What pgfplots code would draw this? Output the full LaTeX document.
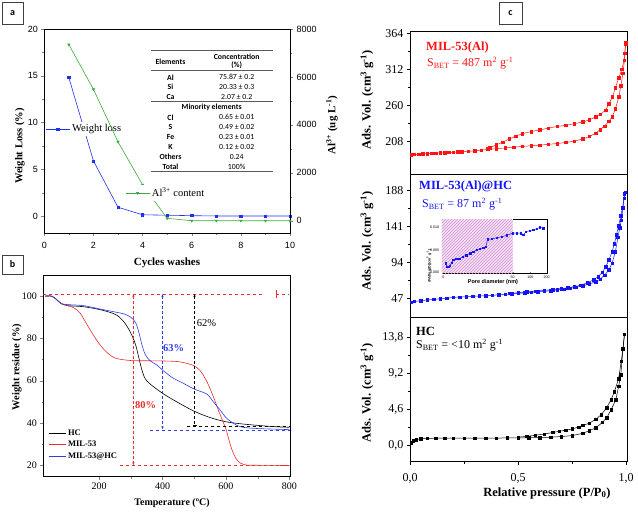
\documentclass[border=0pt]{standalone}
\usepackage{pgfplots}
\pgfplotsset{compat=1.18}
\usepackage{fontspec}
\setmainfont{Liberation Serif}
\newfontfamily\arial{Liberation Sans}
\newfontfamily\calibri{Carlito}
\usetikzlibrary{patterns,arrows.meta}
\definecolor{ablue}{RGB}{30,50,235}
\definecolor{agreen}{RGB}{60,170,60}
\definecolor{bred}{RGB}{235,45,45}
\definecolor{bblue}{RGB}{45,60,235}
\definecolor{cred}{RGB}{255,20,20}
\definecolor{cblue}{RGB}{20,20,245}
\definecolor{pinkfill}{RGB}{246,222,246}
\definecolor{hatch}{RGB}{205,150,205}
\definecolor{tblline}{RGB}{90,90,90}
\newcommand{\fs}[1]{\fontsize{#1}{#1}\selectfont}
\pgfplotsset{
  every axis/.append style={scale only axis, anchor=south west,
    /pgf/number format/assume math mode=true, tick align=outside,
    /pgf/number format/set thousands separator={}},
  cpanel/.style={width=217.2pt, xmin=0, xmax=1.0046, ytick pos=left, xtick pos=bottom,
    minor y tick num=1, minor x tick num=1, tick label style={font=\fs{12}},
    axis line style={line width=0.9pt}, major tick length=3pt, minor tick length=2pt,
    every tick/.style={black, line width=0.7pt}},
}
\begin{document}
\begin{tikzpicture}[x=1pt,y=1pt]
\path[use as bounding box] (0pt,0pt) rectangle (638pt,512pt);

% ---------------- panel a ----------------
\begin{axis}[at={(44.3pt,279pt)}, width=245.7pt, height=204pt,
  xmin=0, xmax=10, ymin=-1.8, ymax=20,
  xtick={0,2,...,10}, ytick={0,5,10,15,20},
  minor x tick num=1, minor y tick num=1,
  xtick pos=bottom, ytick pos=left,
  major tick length=3pt, minor tick length=1.8pt,
  tick label style={font=\arial\fs{9}},
  xticklabel style={yshift=-3pt},
  axis line style={line width=0.6pt},
  legend style={at={(0.0,0.51)}, anchor=west, draw=none, fill=white, font=\fs{10.5}, inner sep=1pt},
  legend image code/.code={\draw[mark repeat=2,mark phase=2,#1] plot coordinates {(0pt,0pt) (12pt,0pt) (24pt,0pt)};},
]
\addplot[ablue, line width=0.6pt, mark=square*, mark size=1.1pt] coordinates {
(1,14.8)(2,5.9)(3,0.95)(4,0.15)(5,0.1)(6,0.05)(7,0.02)(8,0.02)(9,0.02)(10,0.02)};
\addlegendentry{Weight loss}
\end{axis}
\begin{axis}[at={(44.3pt,279pt)}, width=245.7pt, height=204pt,
  xmin=0, xmax=10, ymin=-513, ymax=8000,
  axis x line=none, axis y line*=right,
  ytick={0,2000,4000,6000,8000}, minor y tick num=1,
  scaled y ticks=false,
  major tick length=3pt, minor tick length=1.8pt,
  tick label style={font=\arial\fs{9}},
  axis line style={line width=0.6pt},
  legend style={at={(0.325,0.196)}, anchor=west, draw=none, fill=white, font=\fs{10.5}, inner sep=1pt},
  legend image code/.code={\draw[mark repeat=2,mark phase=2,#1] plot coordinates {(0pt,0pt) (12pt,0pt) (24pt,0pt)};},
]
\addplot[agreen, line width=0.6pt, mark=triangle*, mark size=1.3pt, mark options={rotate=180}] coordinates {
(1,7350)(2,5480)(3,3290)(4,1500)(5,100)(6,0)(7,0)(8,0)(9,0)(10,0)};
\addlegendentry{Al\textsuperscript{3+} content}
\end{axis}

% table in panel a
\begin{scope}[tblline, line width=0.5pt]
\draw (150.7,461.3) -- (273.3,461.3);
\draw (150.7,441.3) -- (273.3,441.3);
\draw (150.7,410.7) -- (273.3,410.7);
\draw (150.7,340.3) -- (273.3,340.3);
\end{scope}
\begin{scope}[every node/.style={font=\calibri\fs{7.8}, inner sep=0pt}]
\node[font=\calibri\bfseries\fs{7.8}] at (170.5,450.3) {Elements};
\node[font=\calibri\bfseries\fs{7.8}] at (236.7,455.3) {Concentration};
\node[font=\calibri\bfseries\fs{7.8}] at (236.7,447) {(\%)};
\node[font=\calibri\bfseries\fs{7.8}] at (170.5,434.7) {Al};
\node[font=\calibri\bfseries\fs{7.8}] at (170.5,425.3) {Si};
\node[font=\calibri\bfseries\fs{7.8}] at (170.5,415.3) {Ca};
\node at (236.7,434.7) {75.87 ± 0.2};
\node at (236.7,425.3) {20.33 ± 0.3};
\node at (236.7,415.3) {2.07 ± 0.2};
\node[font=\calibri\bfseries\fs{7.8}] at (211.7,404.7) {Minority elements};
\node[font=\calibri\bfseries\fs{7.8}] at (170.5,394.7) {Cl};
\node[font=\calibri\bfseries\fs{7.8}] at (170.5,384.7) {S};
\node[font=\calibri\bfseries\fs{7.8}] at (170.5,375) {Fe};
\node[font=\calibri\bfseries\fs{7.8}] at (170.5,365) {K};
\node[font=\calibri\bfseries\fs{7.8}] at (170.5,355) {Others};
\node[font=\calibri\bfseries\fs{7.8}] at (170.5,345.3) {Total};
\node at (236.7,394.7) {0.65 ± 0.01};
\node at (236.7,384.7) {0.49 ± 0.02};
\node at (236.7,375) {0.23 ± 0.01};
\node at (236.7,365) {0.12 ± 0.02};
\node at (236.7,355) {0.24};
\node at (236.7,345.3) {100\%};
\end{scope}

\node[rotate=90, font=\bfseries\fs{10.5}] at (20,366) {Weight Loss (\%)};
\node[font=\bfseries\fs{11}] at (167,249) {Cycles washes};
\node[rotate=90, font=\bfseries\fs{11}] at (332,387) {Al\textsuperscript{3+} (ug L\textsuperscript{-1})};

% ---------------- panel b ----------------
\begin{axis}[at={(43.3pt,35.3pt)}, width=246.7pt, height=201.7pt,
  xmin=24, xmax=802, ymin=14.5, ymax=110,
  xtick={200,400,600,800}, ytick={20,40,...,100},
  minor x tick num=1, minor y tick num=1,
  xtick pos=bottom, ytick pos=left,
  major tick length=3pt, minor tick length=1.8pt,
  tick label style={font=\fs{10}},
  axis line style={line width=0.6pt},
  legend style={at={(0.02,0.245)}, anchor=north west, draw=none, fill=none, font=\bfseries\fs{8.5}, inner sep=0pt, row sep=0.6pt},
  legend cell align=left,
  legend image code/.code={\draw[#1] (0pt,0pt) -- (17pt,0pt);},
]
\addplot[black, line width=0.6pt, smooth] coordinates {
(30,100)(50,100)(65,98.5)(80,96.5)(100,95.5)(150,95)(200,93.7)(230,92.5)(256,91)(280,87.5)(300,82.5)(315,77)(325,71)(335,65)(345,61)(360,58.5)(400,54)(450,49.5)(500,45.5)(550,42.5)(600,40.5)(650,39.5)(700,38.8)(750,38.2)(800,37.9)};
\addlegendentry{HC}
\addplot[bred, line width=0.6pt, smooth] coordinates {
(30,100)(50,100)(65,98.5)(80,96.5)(100,95.5)(120,94.5)(140,92)(160,87)(180,82)(200,77.5)(220,74)(240,71.5)(260,70.3)(300,69.5)(350,69.4)(400,69.3)(450,69)(480,68)(500,67)(520,64.5)(540,59.5)(560,52.5)(580,44.5)(600,37)(615,29)(630,23.5)(645,21)(665,20)(700,19.9)(800,19.8)};
\addlegendentry{MIL-53}
\addplot[bblue, line width=0.6pt, smooth] coordinates {
(30,100)(50,100)(65,98.5)(80,96.5)(100,96)(150,95.5)(200,94)(250,92.5)(280,91.5)(300,90)(315,87.5)(325,83)(335,77)(345,72.5)(360,69.5)(382,67.4)(400,65)(430,61.5)(466,58.7)(500,56)(540,53.6)(560,50)(582,46)(600,42.5)(624,39.7)(650,38)(700,37.3)(800,36.8)};
\addlegendentry{MIL-53@HC}
% annotations
\addplot[bred, dashed, line width=0.6pt, forget plot] coordinates {(24,101)(719,101)};
\addplot[bred, dashed, line width=0.6pt, forget plot] coordinates {(759,101)(800,101)};
\addplot[bred, line width=0.6pt, forget plot] coordinates {(759,99)(759,103)};
\addplot[bred, dashed, line width=0.6pt, forget plot] coordinates {(266,20)(800,20)};
\addplot[bred, densely dashed, line width=0.6pt, {Stealth[length=3pt]}-{Stealth[length=3pt]}, forget plot] coordinates {(308,101)(308,20)};
\addplot[bblue, dashed, line width=0.8pt, forget plot] coordinates {(361,36.6)(802,36.6)};
\addplot[bblue, densely dashed, line width=0.6pt, {Stealth[length=3pt]}-{Stealth[length=3pt]}, forget plot] coordinates {(400,101)(400,37)};
\addplot[black, dashed, line width=0.6pt, forget plot] coordinates {(477,38.3)(802,38.3)};
\addplot[black, densely dashed, line width=0.6pt, {Stealth[length=3pt]}-{Bar[width=4pt]}, forget plot] coordinates {(501,101)(501,38.6)};
\node[bred, font=\bfseries\fs{10.5}] at (axis cs:347,48.4) {80\%};
\node[bblue, font=\bfseries\fs{10.5}] at (axis cs:435,75.2) {63\%};
\node[black, font=\fs{10.5}] at (axis cs:539,87.4) {62\%};
\end{axis}
\node[rotate=90, font=\bfseries\fs{10.4}] at (17,145) {Weight residue (\%)};
\node[font=\bfseries\fs{10}] at (172,9) {Temperature (ºC)};

% ---------------- panel c ----------------
\begin{axis}[cpanel, at={(410pt,338pt)}, height=142.3pt,
  ymin=160.8, ymax=366.3, ytick={208,260,312,364}, xtick=\empty]
\addplot[cred, line width=0.5pt, mark=square*, mark size=1.25pt] coordinates {
(0.005,188.5)(0.02,189)(0.04,189.5)(0.06,190)(0.08,190.3)(0.10,190.7)(0.12,191)(0.14,191.3)(0.16,191.6)(0.18,192)(0.20,192.3)(0.22,192.7)(0.24,193)(0.27,193.5)(0.30,194.3)(0.33,195.2)(0.36,196.4)(0.40,197.3)(0.44,198.5)(0.48,199.6)(0.52,200.6)(0.56,201.6)(0.60,202.5)(0.64,203.6)(0.68,204.8)(0.72,206.3)(0.76,208.3)(0.80,211.5)(0.83,215)(0.86,220)(0.88,225)(0.90,230)(0.92,237)(0.936,243.6)(0.95,255)(0.966,272)(0.975,288)(0.985,306)(0.992,325)(0.997,350)};
\addplot[cred, line width=0.5pt, mark=square*, mark size=1.25pt] coordinates {
(0.997,348)(0.993,335)(0.99,325)(0.98,312)(0.966,300)(0.95,285)(0.936,272)(0.92,262)(0.905,253)(0.88,247)(0.86,243.6)(0.83,239)(0.80,236)(0.76,233.5)(0.72,231)(0.68,229.5)(0.64,227)(0.60,224.5)(0.56,222)(0.52,219)(0.49,215.6)(0.46,211.5)(0.43,207)(0.40,203)(0.37,199)(0.36,197)};
\end{axis}
\begin{axis}[cpanel, at={(410pt,194.3pt)}, height=143.7pt,
  ymin=21.2, ymax=209.9, ytick={47,94,141,188}, xtick=\empty]
\addplot[cblue, line width=0.5pt, mark=square*, mark size=1.25pt] coordinates {
(0.005,41.4)(0.02,42.5)(0.05,43.5)(0.08,44.5)(0.11,45.2)(0.14,46)(0.17,46.8)(0.2,47.9)(0.23,48.3)(0.26,48.8)(0.29,49.3)(0.32,49.7)(0.35,50)(0.38,50.6)(0.41,51.3)(0.44,51.9)(0.47,52.5)(0.5,53.1)(0.53,53.8)(0.56,54.5)(0.59,55.2)(0.62,55.9)(0.65,56.6)(0.68,57.6)(0.71,58.8)(0.74,60)(0.77,61.2)(0.80,63)(0.83,65.5)(0.86,68.5)(0.88,72)(0.90,77)(0.92,84)(0.935,93)(0.95,108)(0.962,127)(0.97,139)(0.977,149)(0.985,165)(0.992,184)};
\addplot[cblue, line width=0.5pt, mark=square*, mark size=1.25pt] coordinates {
(0.995,186)(0.99,178)(0.983,166)(0.975,155)(0.965,142)(0.955,130)(0.945,118)(0.935,108)(0.92,97)(0.905,88)(0.89,81)(0.87,75)(0.85,71)(0.82,67)(0.79,64)(0.76,62)(0.73,60.5)(0.70,59.5)(0.66,58)(0.62,57)(0.58,56)(0.54,55)(0.50,54)(0.46,53)};
\end{axis}
\begin{axis}[cpanel, at={(410pt,50.3pt)}, height=144pt,
  ymin=-2.14, ymax=16.3, ytick={0,4.6,9.2,13.8}, yticklabels={{0,0},{4,6},{9,2},{13,8}},
  xtick={0,0.5,1}, xticklabels={{0,0},{0,5},{1,0}},
  xticklabel style={yshift=-5pt}]
\addplot[black, line width=0.5pt, mark=square*, mark size=1.25pt] coordinates {
(0.005,0.3)(0.015,0.55)(0.03,0.7)(0.05,0.8)(0.08,0.85)(0.12,0.87)(0.16,0.88)(0.2,0.88)(0.25,0.88)(0.3,0.88)(0.35,0.88)(0.4,0.89)(0.45,0.9)(0.5,0.9)(0.55,0.92)(0.6,0.95)(0.65,1.0)(0.7,1.08)(0.75,1.2)(0.8,1.5)(0.83,1.85)(0.86,2.2)(0.89,2.9)(0.91,3.5)(0.93,4.5)(0.952,5.8)(0.965,7.5)(0.975,9.0)(0.985,12.3)(0.992,14.2)};
\addplot[black, line width=0.5pt, mark=square*, mark size=1.25pt] coordinates {
(0.992,14.2)(0.985,12.3)(0.977,10.7)(0.965,8.5)(0.945,6.8)(0.93,5.8)(0.91,4.8)(0.885,3.9)(0.86,3.3)(0.83,2.8)(0.80,2.5)(0.78,2.3)(0.75,2.05)(0.72,1.9)(0.69,1.75)(0.66,1.6)(0.62,1.4)(0.58,1.25)(0.54,1.1)(0.50,1.0)};
\end{axis}

% inset
\begin{axis}[at={(441.7pt,238.7pt)}, width=105pt, height=54pt,
  xmin=-1.15, xmax=74.5, ymin=-0.00022, ymax=0.01178,
  xtick={0,50,62.8,74.5}, xticklabels={0,50,100,200},
  ytick={0,0.005,0.01}, yticklabels={0.000,0.005,0.010},
  scaled y ticks=false, scaled x ticks=false,
  xtick pos=bottom, ytick pos=left, tick align=inside,
  major tick length=1.5pt,
  tick label style={font=\arial\fs{3.6}},
  xticklabel style={yshift=1pt}, yticklabel style={xshift=1pt},
  axis line style={line width=0.4pt},
  axis background/.style={fill=white}]
\addplot[draw=none, fill=pinkfill, postaction={pattern=north east lines, pattern color=hatch}] coordinates {(-1.15,-0.00022)(50,-0.00022)(50,0.01178)(-1.15,0.01178)} --cycle;
\addplot[cblue, line width=0.5pt, mark=square*, mark size=0.7pt] coordinates {
(1.7,0.0020)(2.5,0.00124)(3.6,0.00118)(4.8,0.00147)(6.0,0.00213)(7.2,0.00273)(9.2,0.00296)(11.6,0.00303)(14.0,0.00347)(16.4,0.00378)(19.3,0.00422)(21.6,0.00452)(24.0,0.00496)(26.4,0.00525)(28.8,0.0054)(30.7,0.00562)(31.9,0.00733)(34.8,0.0074)(38.5,0.0077)(42.1,0.0079)(45.7,0.0082)(50.0,0.0087)(52.9,0.0087)(55.8,0.0087)(57.7,0.0084)(59.6,0.0090)(62.5,0.0093)(64.9,0.0094)(67.3,0.0097)(69.7,0.0100)(72.1,0.0098)};
\end{axis}
\node[rotate=90, font=\arial\bfseries\fs{3.6}] at (429,246) {dV/dlog(D)(cm\textsuperscript{3} g\textsuperscript{-1})};
\node[font=\arial\bfseries\fs{5.5}] at (493,230) {Pore diameter (nm)};

% panel c texts
\node[anchor=west, cred, font=\bfseries\fs{12.5}, inner sep=0pt] at (426,464.3) {MIL-53(Al)};
\node[anchor=west, cred, font=\fs{12}, inner sep=0pt] at (427,449) {S\textsubscript{BET} = 487 m\textsuperscript{2} g\textsuperscript{-1}};
\node[anchor=west, cblue, font=\bfseries\fs{12.5}, inner sep=0pt] at (419,325.3) {MIL-53(Al)@HC};
\node[anchor=west, cblue, font=\fs{12}, inner sep=0pt] at (422,307.7) {S\textsubscript{BET} = 87 m\textsuperscript{2} g\textsuperscript{-1}};
\node[anchor=west, black, font=\bfseries\fs{12.5}, inner sep=0pt] at (416,181) {HC};
\node[anchor=west, black, font=\fs{12}, inner sep=0pt] at (416,167) {S\textsubscript{BET} = <10 m\textsuperscript{2} g\textsuperscript{-1}};
\node[rotate=90, font=\bfseries\fs{12.5}] at (367,412) {Ads. Vol. (cm\textsuperscript{3} g\textsuperscript{-1})};
\node[rotate=90, font=\bfseries\fs{12.5}] at (367,271) {Ads. Vol. (cm\textsuperscript{3} g\textsuperscript{-1})};
\node[rotate=90, font=\bfseries\fs{12.5}] at (367,119) {Ads. Vol. (cm\textsuperscript{3} g\textsuperscript{-1})};
\node[font=\bfseries\fs{12.5}] at (547,19) {Relative pressure (P/P\textsubscript{0})};

% panel tags
\draw[line width=0.8pt, black!75] (2,488) rectangle (23,510);
\node[font=\calibri\bfseries\fs{10}] at (12.5,499) {a};
\draw[line width=0.8pt, black!75] (2,238) rectangle (23,257);
\node[font=\calibri\bfseries\fs{10}] at (12.5,247.5) {b};
\draw[line width=0.8pt, black!75] (499,488) rectangle (522,510);
\node[font=\calibri\bfseries\fs{10}] at (510.5,499) {c};
\end{tikzpicture}
\end{document}
